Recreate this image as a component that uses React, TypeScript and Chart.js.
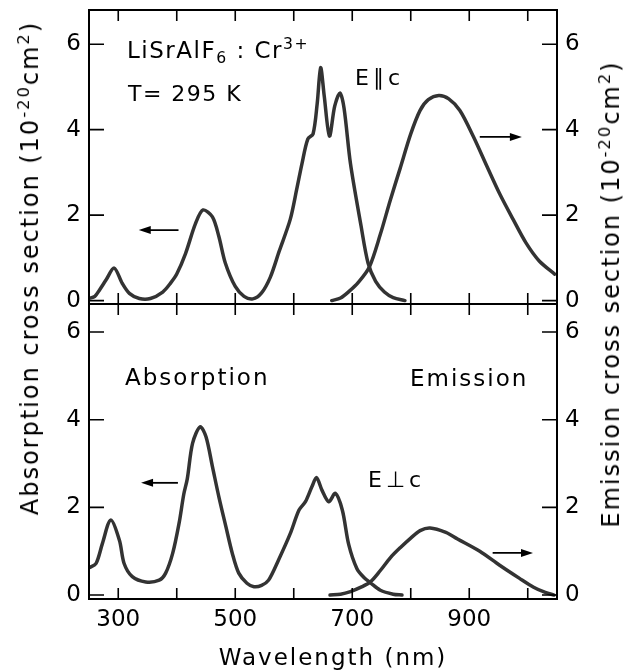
import React, { useEffect, useRef } from "react";
import { Chart, registerables } from "chart.js";

Chart.register(...registerables);

const W = 625;
const H = 671;

// Wavelength axis (nm)
const xMin = 250;
const xMax = 1050;
const xTickValues = [300, 400, 500, 600, 700, 800, 900, 1000];
const xLabelValues = [300, 500, 700, 900];
const yTickValues = [0, 2, 4, 6];

// Top panel: E ∥ c — absorption (left axis)
const absParWl = [250, 260, 268, 279, 293, 307, 319, 336, 355, 376, 390, 400, 415, 432, 445, 461, 472, 483, 500, 515, 530, 545, 560, 575, 594, 605, 614, 624, 633, 640, 646, 652, 661, 670, 679, 686, 697, 715, 727, 740, 755, 770, 790];
const absParVal = [0.05, 0.1, 0.25, 0.48, 0.76, 0.4, 0.17, 0.05, 0.05, 0.2, 0.42, 0.62, 1.1, 1.8, 2.12, 1.96, 1.5, 0.88, 0.33, 0.1, 0.04, 0.18, 0.55, 1.15, 1.9, 2.6, 3.2, 3.78, 3.9, 4.6, 5.45, 4.8, 3.85, 4.55, 4.86, 4.5, 3.2, 1.75, 0.88, 0.45, 0.2, 0.07, 0.0];
// Top panel: E ∥ c — emission (right axis)
const emParWl = [665, 680, 695, 710, 729, 748, 765, 782, 800, 816, 830, 848, 865, 884, 907, 930, 952, 975, 997, 1020, 1046];
const emParVal = [0.0, 0.06, 0.22, 0.42, 0.78, 1.55, 2.35, 3.1, 3.9, 4.45, 4.7, 4.8, 4.72, 4.45, 3.84, 3.15, 2.5, 1.9, 1.35, 0.92, 0.62];

// Bottom panel: E ⊥ c — absorption
const absPerWl = [250, 262, 273, 287, 302, 310, 324, 347, 370, 381, 393, 404, 412, 418, 427, 440, 450, 461, 472, 484, 495, 506, 520, 532, 545, 557, 574, 594, 609, 620, 631, 639, 648, 660, 671, 683, 694, 708, 720, 731, 748, 770, 785];
const absPerVal = [0.62, 0.72, 1.18, 1.71, 1.25, 0.72, 0.42, 0.3, 0.34, 0.5, 0.95, 1.64, 2.3, 2.65, 3.46, 3.84, 3.61, 2.93, 2.24, 1.56, 0.95, 0.5, 0.27, 0.19, 0.22, 0.34, 0.8, 1.4, 1.94, 2.13, 2.47, 2.68, 2.4, 2.13, 2.32, 1.94, 1.15, 0.6, 0.4, 0.28, 0.11, 0.02, 0.0];
// Bottom panel: E ⊥ c — emission
const emPerWl = [662, 680, 697, 715, 731, 748, 765, 782, 800, 816, 833, 860, 880, 918, 952, 986, 1010, 1030, 1045];
const emPerVal = [0.0, 0.02, 0.08, 0.18, 0.3, 0.56, 0.85, 1.08, 1.3, 1.47, 1.53, 1.43, 1.28, 1.0, 0.68, 0.38, 0.18, 0.06, 0.0];

// y ranges of the two panels
const topYRange = [-0.08, 6.8];
const botYRange = [-0.09, 6.64];

// arrows: [tail wavelength, head wavelength, value]
const topArrows = [[403, 335, 1.65], [918, 990, 3.83]];
const botArrows = [[402, 339, 2.56], [940, 1009, 0.96]];

const LINE = "#333";
const FONT = "DejaVu Sans";

const toPts = (xs: number[], ys: number[]) => xs.map((x, i) => ({ x, y: ys[i] }));

function framePlugin(arrows: number[][]) {
  return {
    id: "frame",
    afterDatasetsDraw(chart: any) {
      const { ctx, chartArea: a, scales } = chart;
      const x = scales.x, yl = scales.yL, yr = scales.yR;
      ctx.save();
      ctx.strokeStyle = "#000";
      ctx.lineWidth = 2;
      ctx.strokeRect(a.left, a.top, a.right - a.left, a.bottom - a.top);
      ctx.lineWidth = 1.6;
      ctx.beginPath();
      for (const v of xTickValues) {
        const px = x.getPixelForValue(v);
        ctx.moveTo(px, a.top);
        ctx.lineTo(px, a.top + 11);
        ctx.moveTo(px, a.bottom);
        ctx.lineTo(px, a.bottom - 11);
      }
      for (const v of yTickValues) {
        const pl = yl.getPixelForValue(v);
        ctx.moveTo(a.left, pl);
        ctx.lineTo(a.left + 15, pl);
        const pr = yr.getPixelForValue(v);
        ctx.moveTo(a.right, pr);
        ctx.lineTo(a.right - 15, pr);
      }
      ctx.stroke();
      ctx.fillStyle = "#000";
      ctx.lineWidth = 1.8;
      for (const [t, h, v] of arrows) {
        const xt = x.getPixelForValue(t);
        const xh = x.getPixelForValue(h);
        const py = yl.getPixelForValue(v);
        const dir = xh > xt ? 1 : -1;
        ctx.beginPath();
        ctx.moveTo(xt, py);
        ctx.lineTo(xh - dir * 8, py);
        ctx.stroke();
        ctx.beginPath();
        ctx.moveTo(xh, py);
        ctx.lineTo(xh - dir * 12, py - 4);
        ctx.lineTo(xh - dir * 12, py + 4);
        ctx.closePath();
        ctx.fill();
      }
      ctx.restore();
    },
  };
}

function makeChart(
  canvas: HTMLCanvasElement,
  cfg: {
    absWl: number[]; absVal: number[]; emWl: number[]; emVal: number[];
    yRange: number[]; padTop: number; padBottom: number; xHeight: number; showX: boolean; arrows: number[][];
  }
) {
  const yAxis = (pos: "left" | "right", width: number) => ({
    type: "linear",
    position: pos,
    min: cfg.yRange[0],
    max: cfg.yRange[1],
    afterBuildTicks: (s: any) => {
      s.ticks = yTickValues.map((v) => ({ value: v }));
    },
    afterFit: (s: any) => {
      s.width = width;
      s.paddingTop = 0;
      s.paddingBottom = 0;
    },
    grid: { display: false, drawTicks: false },
    border: { display: false },
    ticks: {
      padding: 8,
      color: "#000",
      font: { family: FONT, size: 23 },
      callback: (v: any) => String(v),
    },
  });
  const ds = (data: any, axis: string) => ({
    data,
    yAxisID: axis,
    borderColor: LINE,
    borderWidth: 3.5,
    pointRadius: 0,
    tension: 0.3,
    borderJoinStyle: "round",
    borderCapStyle: "round",
    fill: false,
  });
  return new Chart(canvas, {
    type: "line",
    data: {
      datasets: [ds(toPts(cfg.absWl, cfg.absVal), "yL"), ds(toPts(cfg.emWl, cfg.emVal), "yR")],
    },
    options: {
      responsive: false,
      animation: false,
      devicePixelRatio: 1,
      events: [],
      layout: { padding: { top: cfg.padTop, bottom: cfg.padBottom, left: 0, right: 0 } },
      plugins: { legend: { display: false }, tooltip: { enabled: false }, title: { display: false } },
      scales: {
        x: {
          type: "linear",
          position: "bottom",
          min: xMin,
          max: xMax,
          afterBuildTicks: (s: any) => {
            s.ticks = xTickValues.map((v) => ({ value: v }));
          },
          afterFit: (s: any) => {
            s.height = cfg.xHeight;
            s.paddingLeft = 0;
            s.paddingRight = 0;
          },
          grid: { display: false, drawTicks: false },
          border: { display: false },
          ticks: {
            display: cfg.showX,
            autoSkip: false,
            maxRotation: 0,
            padding: 7,
            color: "#000",
            font: { family: FONT, size: 23 },
            callback: (v: any) => (xLabelValues.includes(Number(v)) ? String(v) : ""),
          },
        },
        yL: yAxis("left", 89),
        yR: yAxis("right", W - 557),
      } as any,
    },
    plugins: [framePlugin(cfg.arrows)],
  } as any);
}

const supStyle: React.CSSProperties = { fontSize: "0.68em", verticalAlign: "0.55em", lineHeight: 0 };
const subStyle: React.CSSProperties = { fontSize: "0.68em", verticalAlign: "-0.3em", lineHeight: 0 };

function Txt(props: { x: number; y: number; size?: number; ls?: number; children: React.ReactNode }) {
  const size = props.size ?? 22;
  return (
    <div
      style={{
        position: "absolute",
        left: props.x,
        top: props.y - size * 0.5,
        fontSize: size,
        lineHeight: `${size}px`,
        letterSpacing: props.ls ?? 1.5,
        whiteSpace: "nowrap",
      }}
    >
      {props.children}
    </div>
  );
}

function VTitle(props: { cx: number; cy: number; children: React.ReactNode }) {
  return (
    <div
      style={{
        position: "absolute",
        left: props.cx,
        top: props.cy,
        transform: "translate(-50%, -50%) rotate(-90deg)",
        fontSize: 24,
        lineHeight: "24px",
        letterSpacing: 2,
        whiteSpace: "nowrap",
      }}
    >
      {props.children}
    </div>
  );
}

export default function App() {
  const topRef = useRef<HTMLCanvasElement>(null);
  const botRef = useRef<HTMLCanvasElement>(null);

  useEffect(() => {
    const c1 = makeChart(topRef.current!, {
      absWl: absParWl, absVal: absParVal, emWl: emParWl, emVal: emParVal,
      yRange: topYRange, padTop: 10, padBottom: H - 304, xHeight: 0, showX: false, arrows: topArrows,
    });
    const c2 = makeChart(botRef.current!, {
      absWl: absPerWl, absVal: absPerVal, emWl: emPerWl, emVal: emPerVal,
      yRange: botYRange, padTop: 304, padBottom: 0, xHeight: H - 599, showX: true, arrows: botArrows,
    });
    return () => {
      c1.destroy();
      c2.destroy();
    };
  }, []);

  return (
    <div
      style={{
        position: "fixed",
        left: 0,
        top: 0,
        width: W,
        height: H,
        background: "#fff",
        color: "#000",
        fontFamily: FONT,
        overflow: "hidden",
      }}
    >
      <canvas ref={topRef} width={W} height={H} style={{ position: "absolute", left: 0, top: 0 }} />
      <canvas ref={botRef} width={W} height={H} style={{ position: "absolute", left: 0, top: 0 }} />

      <Txt x={127} y={50} size={23} ls={1.5}>
        LiSrAlF<span style={subStyle}>6</span> : Cr<span style={supStyle}>3+</span>
      </Txt>
      <Txt x={128} y={94}>T= 295 K</Txt>
      <Txt x={355} y={78} ls={4}>E∥c</Txt>
      <Txt x={125} y={377} size={23} ls={2}>Absorption</Txt>
      <Txt x={410} y={378} size={23} ls={2}>Emission</Txt>
      <Txt x={368} y={480} ls={4}>E⊥c</Txt>

      <VTitle cx={30} cy={268}>
        Absorption cross section (10<span style={supStyle}>-20</span>cm<span style={supStyle}>2</span>)
      </VTitle>
      <VTitle cx={611} cy={294}>
        Emission cross section (10<span style={supStyle}>-20</span>cm<span style={supStyle}>2</span>)
      </VTitle>
      <div
        style={{
          position: "absolute",
          left: 333,
          top: 657,
          transform: "translate(-50%, -50%)",
          fontSize: 23,
          lineHeight: "23px",
          letterSpacing: 2,
          whiteSpace: "nowrap",
        }}
      >
        Wavelength (nm)
      </div>
    </div>
  );
}
